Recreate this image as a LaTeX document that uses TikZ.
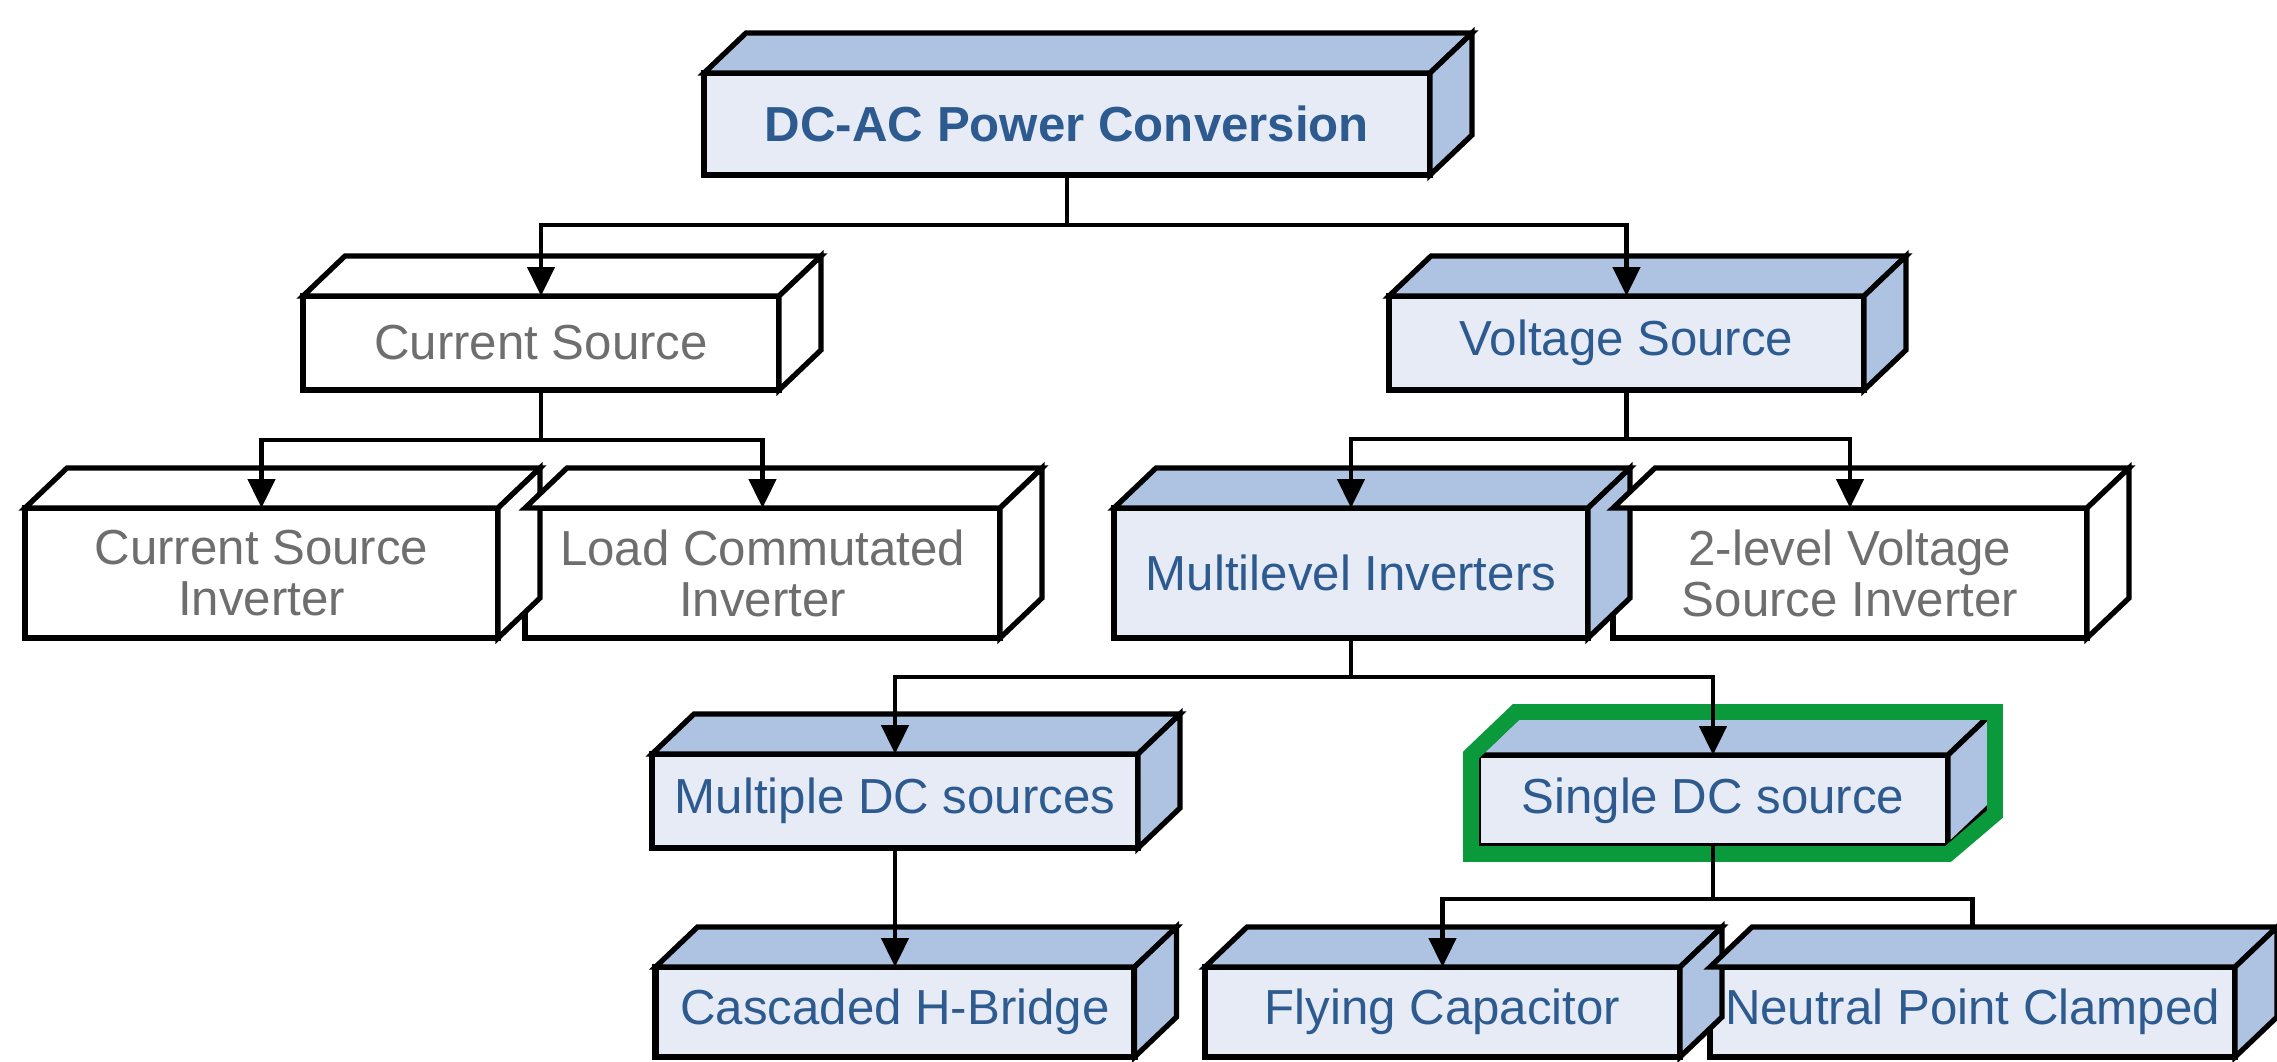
\documentclass[tikz,border=0pt]{standalone}
\usepackage{fontspec}
\setmainfont{Liberation Sans}
\usetikzlibrary{positioning}
\usetikzlibrary{arrows.meta}

\definecolor{frontblue}{HTML}{E6EBF6}
\definecolor{sideblue}{HTML}{AEC3E2}
\definecolor{textblue}{HTML}{2E5B8F}
\definecolor{textgray}{HTML}{6E6E6E}
\definecolor{markgreen}{HTML}{0A9A3C}

% depth of the 3d boxes
\newcommand{\boxdx}{0.42}
\newcommand{\boxdy}{0.40}

\tikzset{
	block/.style={draw, line width=1.8pt, outer sep=0pt, inner sep=0pt, align=center,
		minimum height=0.94cm, font=\fontsize{14pt}{14.5pt}\selectfont},
	blueblock/.style={block, fill=frontblue, text=textblue},
	plainblock/.style={block, fill=white, text=textgray},
	face/.style={draw, line width=1.5pt},
	wire/.style={draw, line width=1.3pt},
	link/.style={wire, -{Triangle[length=0.29cm,width=0.27cm]}},
	hilite/.style={draw=markgreen, line width=4.5pt},
}

\begin{document}
\begin{tikzpicture}
	  \fill[white] (0,0) rectangle (22.77,-10.61);
	  \useasboundingbox (0,0) rectangle (22.77,-10.61);

	  % Root
	  \node[blueblock, minimum width=7.26cm, minimum height=1.02cm,
		font=\fontsize{14pt}{14.5pt}\selectfont\bfseries] (dcac) at (10.67,-1.24) {DC-AC Power Conversion};

	  % Source type
	  \node[plainblock, minimum width=4.76cm] (cs) at (5.41,-3.43) {Current Source};
	  \node[blueblock, minimum width=4.75cm] (vs) at (16.265,-3.43) {Voltage Source};

	  % Inverter families
	  \node[plainblock, minimum width=4.73cm, minimum height=1.30cm] (csi) at (2.615,-5.73) {Current Source\\Inverter};
	  \node[plainblock, minimum width=4.75cm, minimum height=1.30cm, right=0.27cm of csi] (lci) {Load Commutated\\Inverter};
	  \node[blueblock, minimum width=4.74cm, minimum height=1.30cm] (mli) at (13.51,-5.73) {Multilevel Inverters};
	  \node[plainblock, minimum width=4.74cm, minimum height=1.30cm, right=0.25cm of mli] (vsi) {2-level Voltage\\Source Inverter};

	  % DC supply
	  \node[blueblock, minimum width=4.86cm] (mdc) at (8.95,-8.01) {Multiple DC sources};
	  \node[blueblock, minimum width=4.70cm, minimum height=0.91cm] (sdc) at (17.13,-8.005) {Single DC source};

	  % Topologies
	  \node[blueblock, minimum width=4.79cm, minimum height=0.90cm] (chb) at (8.95,-10.12) {Cascaded H-Bridge};
	  \node[blueblock, minimum width=4.75cm, minimum height=0.90cm] (fc) at (14.425,-10.12) {Flying Capacitor};
	  \node[blueblock, minimum width=5.25cm, minimum height=0.90cm, right=0.30cm of fc] (npc) {Neutral Point Clamped};

	  % Top and side faces of every box
	  \foreach \n/\c in {dcac/sideblue, cs/white, vs/sideblue, csi/white, lci/white, mli/sideblue,
		vsi/white, mdc/sideblue, sdc/sideblue, chb/sideblue, fc/sideblue, npc/sideblue} {
		\draw[face, fill=\c] (\n.north west) -- ++(\boxdx,\boxdy)
		  -- ([shift={(\boxdx,\boxdy)}]\n.north east) -- (\n.north east) -- cycle;
		\draw[face, fill=\c] (\n.north east) -- ++(\boxdx,\boxdy)
		  -- ([shift={(\boxdx,\boxdy)}]\n.south east) -- (\n.south east) -- cycle;
	  }

	  % Green frame round the single source box
	  \draw[hilite] ([xshift=-0.07cm]sdc.north west) -- ([shift={(0.38,0.43)}]sdc.north west)
		-- ([shift={(0.47,0.43)}]sdc.north east) -- ([shift={(0.47,0.32)}]sdc.south east)
		-- ([yshift=-0.08cm]sdc.south east) -- ([shift={(-0.07,-0.08)}]sdc.south west) -- cycle;

	  % Connections
	  \draw[link] (dcac.south) -- ++(0,-0.50) -| (cs.north);
	  \draw[link] (dcac.south) -- ++(0,-0.50) -| (vs.north);
	  \draw[link] (cs.south) -- ++(0,-0.50) -| (csi.north);
	  \draw[link] (cs.south) -- ++(0,-0.50) -| (lci.north);
	  \draw[link] (vs.south) -- ++(0,-0.49) -| (mli.north);
	  \draw[link] (vs.south) -- ++(0,-0.49) -| (vsi.north);
	  \draw[link] (mli.south) -- ++(0,-0.39) -| (mdc.north);
	  \draw[link] (mli.south) -- ++(0,-0.39) -| (sdc.north);
	  \draw[link] (mdc.south) -- (chb.north);
	  \draw[link] (sdc.south) -- ++(0,-0.53) -| (fc.north);
	  \draw[wire] (sdc.south) -- ++(0,-0.53) -| ([yshift=0.40cm]npc.north);
\end{tikzpicture}
\end{document}
